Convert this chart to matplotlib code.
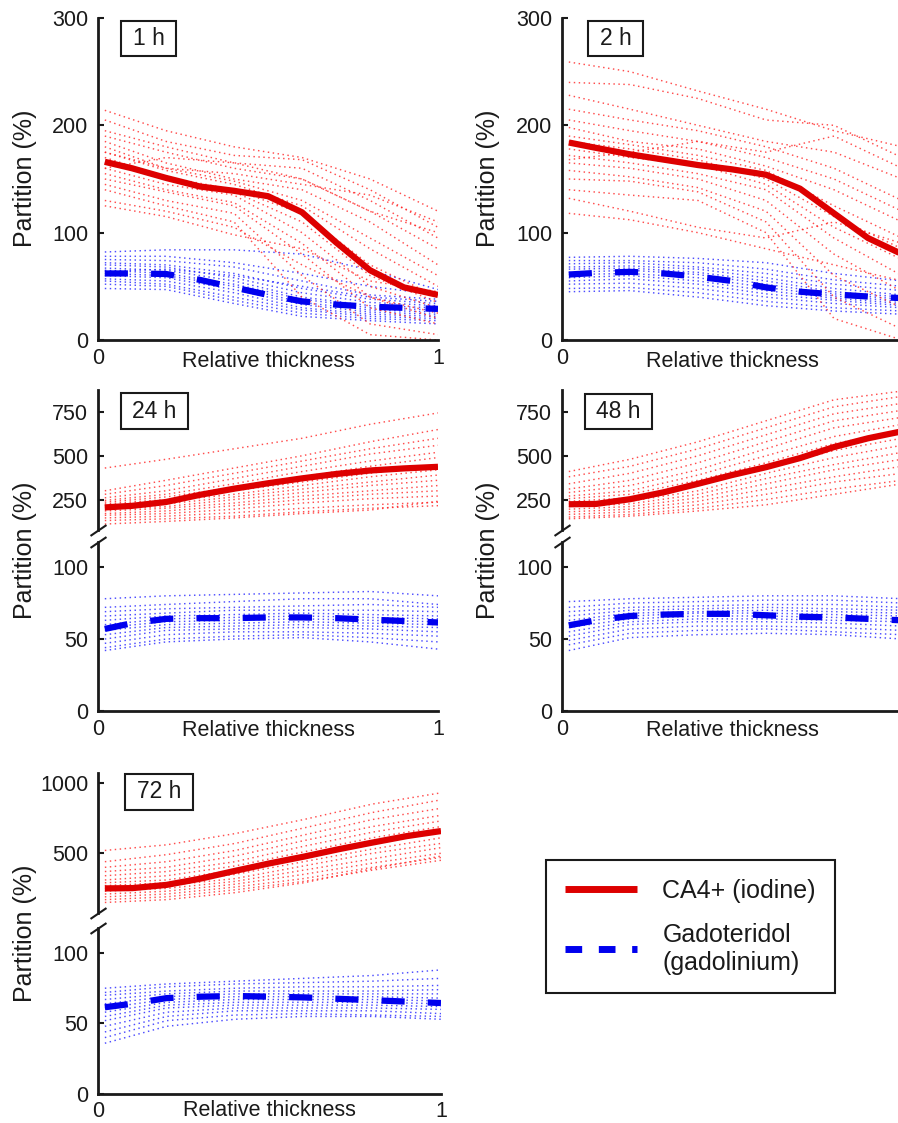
import matplotlib
matplotlib.use('Agg')
import matplotlib.pyplot as plt
from matplotlib.lines import Line2D
from matplotlib.path import Path

plt.rcParams['font.family'] = ['Liberation Sans', 'DejaVu Sans']

# ---- data ----
x_mean = [0.02, 0.1, 0.2, 0.3, 0.4, 0.5, 0.6, 0.7, 0.8, 0.9, 1.0]
x_ind = [0.02, 0.2, 0.4, 0.6, 0.8, 1.0]

ca4_mean_1h = [166, 160, 151, 143, 139, 134, 119, 91, 65, 49, 42]
gado_mean_1h = [62, 62, 61.5, 56, 49, 42, 36, 33, 31, 30, 29]
ca4_ind_1h = [
    [214, 195, 180, 170, 150, 120], [205, 185, 172, 168, 140, 105],
    [195, 180, 165, 160, 130, 95], [190, 175, 160, 150, 120, 85],
    [185, 165, 150, 140, 110, 70], [180, 160, 148, 130, 95, 60],
    [175, 158, 145, 125, 85, 50], [170, 152, 140, 118, 70, 40],
    [165, 150, 138, 110, 60, 35], [160, 145, 135, 100, 50, 30],
    [155, 140, 128, 90, 40, 25], [150, 138, 125, 80, 30, 15],
    [145, 130, 118, 60, 15, 5], [140, 125, 110, 40, 5, 0],
    [130, 120, 105, 70, 40, 20], [125, 115, 98, 85, 55, 45],
    [160, 170, 165, 150, 120, 100], [175, 160, 155, 145, 135, 110],
]
gado_ind_1h = [
    [82, 84, 84, 80, 65, 47], [78, 78, 72, 62, 50, 42], [75, 74, 68, 55, 42, 38],
    [72, 70, 62, 48, 38, 34], [70, 68, 58, 44, 35, 32], [67, 65, 55, 40, 32, 30],
    [65, 62, 52, 38, 30, 28], [62, 60, 50, 35, 28, 26], [60, 58, 47, 33, 26, 24],
    [57, 55, 44, 30, 24, 22], [55, 52, 40, 28, 22, 20], [52, 50, 37, 25, 20, 18],
    [48, 47, 34, 22, 18, 15], [64, 66, 60, 50, 40, 36],
]

ca4_mean_2h = [184, 179, 173, 168, 163, 159, 154, 141, 118, 95, 80]
gado_mean_2h = [61, 62.5, 63.5, 62, 59, 55, 49, 45, 42.5, 40.5, 39]
ca4_ind_2h = [
    [259, 250, 232, 215, 195, 180], [240, 238, 225, 205, 200, 170],
    [228, 215, 200, 185, 175, 150], [215, 205, 195, 180, 160, 130],
    [205, 195, 185, 170, 150, 120], [198, 185, 178, 162, 140, 110],
    [190, 182, 172, 158, 125, 95], [185, 178, 168, 150, 115, 85],
    [178, 170, 163, 145, 105, 75], [172, 165, 155, 140, 95, 60],
    [165, 160, 150, 130, 80, 45], [158, 152, 142, 120, 60, 30],
    [150, 148, 138, 110, 40, 10], [140, 135, 130, 100, 20, 0],
    [132, 120, 105, 95, 110, 90], [118, 112, 100, 85, 70, 55],
    [168, 175, 185, 175, 190, 160],
]
gado_ind_2h = [
    [77, 78, 76, 72, 62, 55], [74, 74, 72, 66, 56, 50], [71, 72, 68, 62, 52, 46],
    [68, 69, 66, 58, 48, 42], [66, 67, 63, 55, 45, 40], [63, 65, 61, 52, 43, 38],
    [61, 62, 58, 49, 41, 36], [58, 60, 55, 46, 39, 34], [55, 57, 52, 43, 37, 32],
    [52, 53, 48, 40, 34, 30], [48, 49, 44, 36, 30, 27], [45, 46, 40, 32, 27, 24],
]

ca4_mean_24h = [205, 214, 236, 277, 312, 343, 371, 396, 416, 428, 437]
gado_mean_24h = [57, 61, 64, 64.5, 64.5, 65, 65, 64.5, 63.5, 62.5, 61.5]
ca4_ind_24h = [
    [430, 480, 540, 600, 680, 745], [300, 360, 430, 500, 580, 650],
    [280, 330, 400, 470, 540, 600], [260, 300, 370, 440, 510, 560],
    [245, 280, 340, 410, 470, 520], [235, 265, 320, 380, 440, 490],
    [225, 250, 300, 350, 400, 450], [215, 240, 280, 330, 380, 420],
    [205, 225, 265, 310, 350, 390], [195, 210, 250, 290, 330, 360],
    [185, 200, 230, 270, 300, 330], [170, 185, 215, 250, 280, 300],
    [160, 170, 195, 230, 255, 270], [145, 155, 175, 200, 220, 235],
    [130, 140, 155, 180, 200, 215], [110, 125, 145, 170, 190, 240],
]
gado_ind_24h = [
    [78, 80, 81, 82, 83, 80], [72, 74, 76, 78, 78, 74], [69, 71, 72, 73, 74, 72],
    [66, 68, 70, 70, 70, 69], [63, 66, 67, 68, 67, 66], [60, 64, 65, 66, 65, 64],
    [58, 62, 63, 64, 63, 62], [56, 60, 61, 62, 61, 60], [53, 58, 59, 60, 59, 58],
    [50, 56, 57, 58, 57, 55], [47, 53, 55, 55, 54, 52], [44, 50, 52, 53, 51, 48],
    [42, 48, 50, 51, 48, 43],
]

ca4_mean_48h = [223, 225, 252, 292, 340, 390, 435, 487, 550, 600, 640]
gado_mean_48h = [59.5, 63, 66, 67, 67.5, 67.5, 66.5, 65.5, 65, 64, 63]
ca4_ind_48h = [
    [410, 480, 580, 700, 820, 870], [380, 440, 540, 660, 780, 840],
    [340, 400, 500, 620, 740, 800], [310, 360, 460, 580, 700, 760],
    [290, 330, 420, 540, 660, 720], [270, 300, 390, 500, 610, 680],
    [255, 280, 360, 460, 570, 640], [240, 260, 330, 430, 530, 600],
    [225, 240, 300, 400, 490, 560], [210, 225, 280, 370, 450, 520],
    [195, 210, 260, 340, 420, 480], [180, 195, 240, 310, 380, 440],
    [165, 180, 220, 280, 350, 400], [150, 165, 200, 250, 310, 360],
    [140, 155, 185, 220, 280, 340],
]
gado_ind_48h = [
    [76, 78, 79, 80, 80, 78], [72, 75, 76, 77, 77, 75], [69, 72, 73, 74, 74, 72],
    [66, 70, 71, 72, 71, 70], [63, 68, 69, 70, 69, 68], [61, 66, 68, 68, 67, 66],
    [58, 64, 66, 66, 65, 64], [55, 62, 64, 64, 63, 62], [52, 60, 62, 62, 61, 59],
    [49, 57, 59, 59, 58, 56], [46, 54, 56, 57, 55, 53], [42, 51, 53, 54, 53, 50],
]

ca4_mean_72h = [250, 252, 275, 320, 375, 428, 476, 528, 576, 622, 658]
gado_mean_72h = [61.5, 64, 68, 69, 69.5, 69, 68.5, 67.5, 66.5, 65.5, 64.5]
ca4_ind_72h = [
    [520, 560, 640, 740, 850, 930], [440, 490, 570, 680, 790, 880],
    [400, 440, 520, 630, 740, 820], [370, 400, 480, 590, 690, 770],
    [340, 370, 440, 550, 650, 730], [310, 340, 410, 510, 610, 690],
    [290, 310, 380, 470, 570, 650], [270, 290, 350, 440, 530, 610],
    [250, 270, 320, 410, 500, 570], [230, 250, 300, 380, 460, 540],
    [210, 230, 280, 350, 430, 500], [190, 210, 260, 320, 400, 470],
    [170, 190, 240, 300, 380, 450], [150, 170, 220, 290, 390, 480],
]
gado_ind_72h = [
    [75, 78, 80, 82, 84, 88], [72, 76, 78, 79, 80, 82], [70, 73, 75, 76, 76, 77],
    [67, 71, 73, 73, 73, 74], [64, 69, 71, 71, 71, 71], [61, 67, 69, 69, 69, 68],
    [58, 65, 67, 67, 67, 66], [55, 63, 65, 65, 65, 64], [52, 61, 63, 63, 63, 62],
    [48, 58, 61, 61, 61, 60], [44, 55, 59, 59, 59, 57], [40, 52, 56, 57, 56, 55],
    [36, 48, 53, 55, 55, 53],
]

RED = '#dd0000'
BLUE = '#0000ee'
RED_LT = '#ff2020'
BLUE_LT = '#2020ff'
TXT = '#1a1a1a'

W, H = 898, 1123
fig = plt.figure(figsize=(W / 100, H / 100), dpi=100)


def add_ax(left, top, right, bottom):
    return fig.add_axes([left / W, 1 - bottom / H, (right - left) / W, (bottom - top) / H])


def style(ax, show_bottom=True, pad=6):
    ax.patch.set_alpha(0)
    ax.spines['top'].set_visible(False)
    ax.spines['right'].set_visible(False)
    ax.spines['left'].set_linewidth(2)
    ax.spines['left'].set_color(TXT)
    if show_bottom:
        ax.spines['bottom'].set_linewidth(2)
        ax.spines['bottom'].set_color(TXT)
        ax.set_xticks([0, 1], ['0', '1'])
        ax.tick_params(axis='x', length=0, pad=pad, labelsize=15.5, labelcolor=TXT)
    else:
        ax.spines['bottom'].set_visible(False)
        ax.set_xticks([])
    ax.tick_params(axis='y', direction='in', length=4.5, width=1.5, pad=7,
                   labelsize=15.5, labelcolor=TXT, color=TXT)
    ax.set_xlim(0, 1)


def draw(ax, ind, mean, color_lt, color, dashed):
    for ys in ind:
        ax.plot(x_ind, ys, color=color_lt, lw=1.05, dashes=(1, 2.4), alpha=0.8, zorder=2)
    if dashed:
        ax.plot(x_mean, mean, color=color, lw=4.5, dashes=(3.7, 3.7),
                dash_capstyle='butt', zorder=4)
    else:
        ax.plot(x_mean, mean, color=color, lw=4.5, solid_capstyle='butt', zorder=4)


def xlabel(ax, h, off):
    ax.set_xlabel('Relative thickness', fontsize=15.5, color=TXT, va='baseline')
    ax.xaxis.set_label_coords(0.5, -off / h)


def wide_box(x0, y0, width, height, mutation_size):
    # square box, wider padding left/right than top/bottom
    px, py = 0.5 * mutation_size, 0.28 * mutation_size
    x0, y0 = x0 - px, y0 - py
    x1, y1 = x0 + width + 2 * px, y0 + height + 2 * py
    return Path([(x0, y0), (x1, y0), (x1, y1), (x0, y1), (x0, y0)], closed=True)


def tag(ax, text, dx, dy):
    ax.annotate(text, xy=(0, 1), xycoords='axes fraction', xytext=(dx, -dy),
                textcoords='offset pixels', ha='center', va='center', fontsize=16.5,
                color=TXT, bbox=dict(boxstyle=wide_box, fc='white', ec=TXT, lw=1.5),
                zorder=6)


def ylabel(x, y):
    fig.text(x / W, 1 - y / H, 'Partition (%)', rotation=90, ha='center',
             va='center', fontsize=18, color=TXT)


def breaks(ax_top, ax_bot):
    mk = [(-1, -0.68), (1, 0.68)]
    for ax, y in ((ax_top, 0), (ax_bot, 1)):
        ax.plot([0], [y], transform=ax.transAxes, marker=mk, markersize=11.5,
                linestyle='none', mec=TXT, mew=1.5, clip_on=False, zorder=7)


# ---- simple panels (1 h, 2 h) ----
simple = [
    (98, 438, '1 h', ca4_ind_1h, ca4_mean_1h, gado_ind_1h, gado_mean_1h, 25, 50.5),
    (562, 902, '2 h', ca4_ind_2h, ca4_mean_2h, gado_ind_2h, gado_mean_2h, 488, 53.5),
]
for left, right, name, ci, cm, gi, gm, ylx, tx in simple:
    ax = add_ax(left, 18, right, 340)
    style(ax)
    ax.set_ylim(0, 300)
    ax.set_yticks([0, 100, 200, 300])
    draw(ax, gi, gm, BLUE_LT, BLUE, True)
    draw(ax, ci, cm, RED_LT, RED, False)
    xlabel(ax, 322, 27)
    tag(ax, name, tx, 20.5)
    ylabel(ylx, 178)

# ---- broken panels (24 h, 48 h, 72 h) ----
broken = [
    (98, 438, 390, 530, 542, 711, (76, 876), [250, 500, 750], (0, 117.4),
     '24 h', ca4_ind_24h, ca4_mean_24h, gado_ind_24h, gado_mean_24h, 25, 550, 56.5, 21, 25),
    (562, 902, 390, 530, 542, 711, (76, 876), [250, 500, 750], (0, 117.4),
     '48 h', ca4_ind_48h, ca4_mean_48h, gado_ind_48h, gado_mean_48h, 488, 550, 56.5, 21.5, 25),
    (98, 441, 773, 913, 928, 1094, (75, 1071), [500, 1000], (0, 117.7),
     '72 h', ca4_ind_72h, ca4_mean_72h, gado_ind_72h, gado_mean_72h, 25, 933, 61, 19, 22),
]
for (left, right, t1, b1, t2, b2, ylim_top, ticks_top, ylim_bot, name,
     ci, cm, gi, gm, ylx, yly, tx, ty, xoff) in broken:
    ax_t = add_ax(left, t1, right, b1)
    ax_b = add_ax(left, t2, right, b2)
    style(ax_t, show_bottom=False)
    style(ax_b, pad=6 if xoff > 23 else 5)
    ax_t.set_ylim(*ylim_top)
    ax_t.set_yticks(ticks_top)
    ax_b.set_ylim(*ylim_bot)
    ax_b.set_yticks([0, 50, 100])
    draw(ax_t, ci, cm, RED_LT, RED, False)
    draw(ax_b, gi, gm, BLUE_LT, BLUE, True)
    breaks(ax_t, ax_b)
    xlabel(ax_b, b2 - t2, xoff)
    tag(ax_t, name, tx, ty)
    ylabel(ylx, yly)

# ---- legend ----
handles = [
    Line2D([], [], color=RED, lw=5, solid_capstyle='butt'),
    Line2D([], [], color=BLUE, lw=5, dashes=(2.4, 2.4), dash_capstyle='butt'),
]
leg = fig.legend(handles, ['CA4+ (iodine)', 'Gadoteridol\n(gadolinium)'],
                 loc='upper left', bbox_to_anchor=(546 / W, 1 - 860 / H),
                 borderaxespad=0, fontsize=18, handlelength=2.9, handletextpad=1.0,
                 borderpad=0.75, labelspacing=0.8, frameon=True, fancybox=False,
                 edgecolor=TXT, framealpha=1)
leg.get_frame().set_linewidth(1.5)
for t in leg.get_texts():
    t.set_color(TXT)

fig.savefig('out.png', dpi=100)
